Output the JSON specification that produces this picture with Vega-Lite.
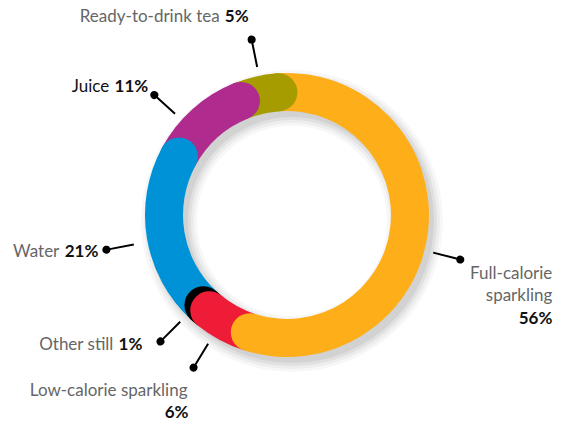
{
  "$schema": "https://vega.github.io/schema/vega-lite/v6.json",
  "width": 574,
  "height": 420,
  "autosize": "none",
  "padding": {"top": 5, "left": 0, "right": 0, "bottom": 0},
  "background": "white",
  "config": {"view": {"stroke": null}, "text": {"font": "Lato", "fontSize": 17}},
  "data": {"values": [
    {"category": "Ready-to-drink tea", "share": 0.05, "order": 6},
    {"category": "Juice", "share": 0.11, "order": 5},
    {"category": "Water", "share": 0.21, "order": 4},
    {"category": "Other still", "share": 0.01, "order": 3},
    {"category": "Low-calorie sparkling", "share": 0.06, "order": 2},
    {"category": "Full-calorie sparkling", "share": 0.56, "order": 1}
  ]},
  "transform": [
    {"stack": "share", "groupby": [], "sort": [{"field": "order", "order": "ascending"}], "as": ["v0", "v1"]}
  ],
  "layer": [
    {
      "transform": [{"aggregate": [{"op": "count", "as": "n"}]}],
      "layer": [
        {"mark": {"type": "arc", "theta": 0, "theta2": 6.2832, "innerRadius": 95, "outerRadius": 151, "fill": "#000", "opacity": 0.03, "xOffset": 5, "yOffset": 6}, "encoding": {}},
        {"mark": {"type": "arc", "theta": 0, "theta2": 6.2832, "innerRadius": 98, "outerRadius": 148, "fill": "#000", "opacity": 0.04, "xOffset": 5, "yOffset": 6}, "encoding": {}},
        {"mark": {"type": "arc", "theta": 0, "theta2": 6.2832, "innerRadius": 101, "outerRadius": 145, "fill": "#000", "opacity": 0.05, "xOffset": 5, "yOffset": 6}, "encoding": {}},
        {"mark": {"type": "arc", "theta": 0, "theta2": 6.2832, "innerRadius": 104, "outerRadius": 142, "fill": "#000", "opacity": 0.06, "xOffset": 5, "yOffset": 6}, "encoding": {}}
      ]
    },
    {
      "mark": {"type": "arc", "innerRadius": 104, "outerRadius": 142},
      "encoding": {
        "theta": {"field": "v0", "type": "quantitative", "scale": {"domain": [0, 1], "range": [-0.0698, 6.2134]}},
        "theta2": {"field": "v1"},
        "color": {"field": "category", "type": "nominal", "legend": null,
          "scale": {"domain": ["Full-calorie sparkling", "Low-calorie sparkling", "Other still", "Water", "Juice", "Ready-to-drink tea"],
                    "range": ["#FDAE19", "#EE1C36", "#000000", "#0092D6", "#B02B8E", "#A69C00"]}}
      }
    },
    {
      "mark": {"type": "arc", "innerRadius": 104, "outerRadius": 142, "cornerRadius": 19, "thetaOffset": -0.1552, "theta2Offset": 0.1552},
      "encoding": {
        "theta": {"field": "v1", "type": "quantitative", "scale": {"domain": [0, 1], "range": [-0.0698, 6.2134]}},
        "theta2": {"field": "v1"},
        "color": {"field": "category", "type": "nominal", "legend": null}
      }
    },
    {
      "transform": [
        {"fold": ["v0", "v1"], "as": ["edge", "pos"]},
        {"aggregate": [{"op": "mean", "field": "pos", "as": "mid"}], "groupby": ["category", "share"]}
      ],
      "encoding": {
        "theta": {"field": "mid", "type": "quantitative", "scale": {"domain": [0, 1], "range": [-0.0698, 6.2134]}}
      },
      "layer": [
        {
          "transform": [{"filter": "datum.category === 'Ready-to-drink tea'"}],
          "layer": [
            {"mark": {"type": "arc", "innerRadius": 151, "outerRadius": 177, "filled": false, "stroke": "#000", "strokeWidth": 2, "thetaOffset": 0.028, "theta2Offset": 0.028}, "encoding": {"theta2": {"field": "mid"}}},
            {"mark": {"type": "arc", "innerRadius": 175, "outerRadius": 183, "cornerRadius": 4, "thetaOffset": 0.0056, "theta2Offset": 0.0504, "fill": "#000"}, "encoding": {"theta2": {"field": "mid"}}},
            {"mark": {"type": "text", "radius": 179, "thetaOffset": 0.028, "align": "right", "baseline": "alphabetic", "dx": -32, "dy": -18, "fill": "#666666"}, "encoding": {"text": {"field": "category"}}},
            {"mark": {"type": "text", "radius": 179, "thetaOffset": 0.028, "align": "right", "baseline": "alphabetic", "dx": -3, "dy": -18, "fill": "#111111", "fontWeight": "bold"}, "encoding": {"text": {"field": "share", "type": "quantitative", "format": ".0%"}}}
          ]
        },
        {
          "transform": [{"filter": "datum.category === 'Juice'"}],
          "layer": [
            {"mark": {"type": "arc", "innerRadius": 151, "outerRadius": 177, "filled": false, "stroke": "#000", "strokeWidth": 2, "thetaOffset": -0.106, "theta2Offset": -0.106}, "encoding": {"theta2": {"field": "mid"}}},
            {"mark": {"type": "arc", "innerRadius": 175, "outerRadius": 183, "cornerRadius": 4, "thetaOffset": -0.1284, "theta2Offset": -0.0836, "fill": "#000"}, "encoding": {"theta2": {"field": "mid"}}},
            {"mark": {"type": "text", "radius": 179, "thetaOffset": -0.106, "align": "right", "baseline": "alphabetic", "dx": -45, "dy": -3, "fill": "#111111"}, "encoding": {"text": {"field": "category"}}},
            {"mark": {"type": "text", "radius": 179, "thetaOffset": -0.106, "align": "right", "baseline": "alphabetic", "dx": -6, "dy": -3, "fill": "#111111", "fontWeight": "bold"}, "encoding": {"text": {"field": "share", "type": "quantitative", "format": ".0%"}}}
          ]
        },
        {
          "transform": [{"filter": "datum.category === 'Water'"}],
          "layer": [
            {"mark": {"type": "arc", "innerRadius": 156, "outerRadius": 182, "filled": false, "stroke": "#000", "strokeWidth": 2, "thetaOffset": -0.026, "theta2Offset": -0.026}, "encoding": {"theta2": {"field": "mid"}}},
            {"mark": {"type": "arc", "innerRadius": 180, "outerRadius": 188, "cornerRadius": 4, "thetaOffset": -0.0478, "theta2Offset": -0.0042, "fill": "#000"}, "encoding": {"theta2": {"field": "mid"}}},
            {"mark": {"type": "text", "radius": 184, "thetaOffset": -0.026, "align": "right", "baseline": "alphabetic", "dx": -47, "dy": 7, "fill": "#666666"}, "encoding": {"text": {"field": "category"}}},
            {"mark": {"type": "text", "radius": 184, "thetaOffset": -0.026, "align": "right", "baseline": "alphabetic", "dx": -8, "dy": 7, "fill": "#111111", "fontWeight": "bold"}, "encoding": {"text": {"field": "share", "type": "quantitative", "format": ".0%"}}}
          ]
        },
        {
          "transform": [{"filter": "datum.category === 'Other still'"}],
          "layer": [
            {"mark": {"type": "arc", "innerRadius": 151, "outerRadius": 177, "filled": false, "stroke": "#000", "strokeWidth": 2, "thetaOffset": 0.07, "theta2Offset": 0.07}, "encoding": {"theta2": {"field": "mid"}}},
            {"mark": {"type": "arc", "innerRadius": 175, "outerRadius": 183, "cornerRadius": 4, "thetaOffset": 0.0476, "theta2Offset": 0.0924, "fill": "#000"}, "encoding": {"theta2": {"field": "mid"}}},
            {"mark": {"type": "text", "radius": 179, "thetaOffset": 0.07, "align": "right", "baseline": "alphabetic", "dx": -47, "dy": 8, "fill": "#666666"}, "encoding": {"text": {"field": "category"}}},
            {"mark": {"type": "text", "radius": 179, "thetaOffset": 0.07, "align": "right", "baseline": "alphabetic", "dx": -18, "dy": 8, "fill": "#111111", "fontWeight": "bold"}, "encoding": {"text": {"field": "share", "type": "quantitative", "format": ".0%"}}}
          ]
        },
        {
          "transform": [{"filter": "datum.category === 'Low-calorie sparkling'"}],
          "layer": [
            {"mark": {"type": "arc", "innerRadius": 151, "outerRadius": 177, "filled": false, "stroke": "#000", "strokeWidth": 2, "thetaOffset": 0.054, "theta2Offset": 0.054}, "encoding": {"theta2": {"field": "mid"}}},
            {"mark": {"type": "arc", "innerRadius": 175, "outerRadius": 183, "cornerRadius": 4, "thetaOffset": 0.0316, "theta2Offset": 0.0764, "fill": "#000"}, "encoding": {"theta2": {"field": "mid"}}},
            {"mark": {"type": "text", "radius": 179, "thetaOffset": 0.054, "align": "right", "baseline": "alphabetic", "dx": -6, "dy": 28, "fill": "#666666"}, "encoding": {"text": {"field": "category"}}},
            {"mark": {"type": "text", "radius": 179, "thetaOffset": 0.054, "align": "right", "baseline": "alphabetic", "dx": -5, "dy": 50, "fill": "#111111", "fontWeight": "bold"}, "encoding": {"text": {"field": "share", "type": "quantitative", "format": ".0%"}}}
          ]
        },
        {
          "transform": [{"filter": "datum.category === 'Full-calorie sparkling'"}],
          "layer": [
            {"mark": {"type": "arc", "innerRadius": 151, "outerRadius": 177, "filled": false, "stroke": "#000", "strokeWidth": 2, "thetaOffset": 0.133, "theta2Offset": 0.133}, "encoding": {"theta2": {"field": "mid"}}},
            {"mark": {"type": "arc", "innerRadius": 175, "outerRadius": 183, "cornerRadius": 4, "thetaOffset": 0.1106, "theta2Offset": 0.1554, "fill": "#000"}, "encoding": {"theta2": {"field": "mid"}}},
            {"mark": {"type": "text", "radius": 179, "thetaOffset": 0.133, "align": "right", "baseline": "alphabetic", "dx": 92, "dy": 19, "lineBreak": " ", "lineHeight": 22.7, "fill": "#666666"}, "encoding": {"text": {"field": "category"}}},
            {"mark": {"type": "text", "radius": 179, "thetaOffset": 0.133, "align": "right", "baseline": "alphabetic", "dx": 92, "dy": 64, "fill": "#111111", "fontWeight": "bold"}, "encoding": {"text": {"field": "share", "type": "quantitative", "format": ".0%"}}}
          ]
        }
      ]
    }
  ]
}
